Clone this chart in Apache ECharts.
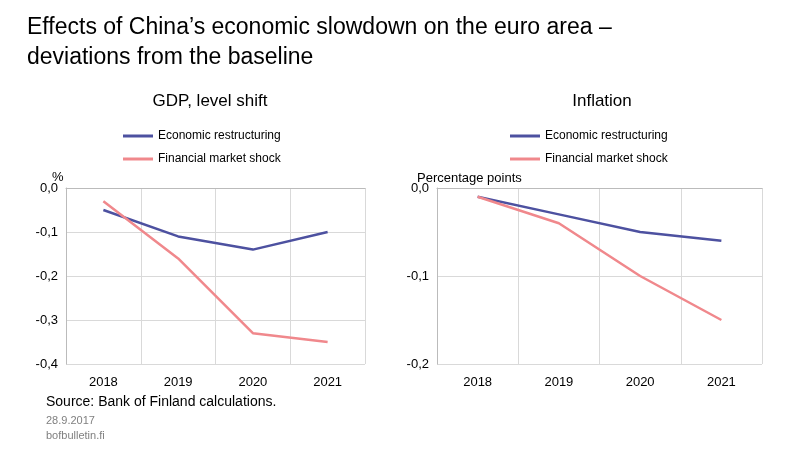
<!DOCTYPE html>
<html><head><meta charset="utf-8">
<script src="https://cdn.jsdelivr.net/npm/echarts@6/dist/echarts.min.js"></script>
<style>html,body{margin:0;padding:0;background:#fff}#c{width:800px;height:457px}</style>
</head><body><div id="c"></div>
<script>
const years = ['2018','2019','2020','2021'];
const gdpRestructuring = [-0.05,-0.11,-0.14,-0.10];
const gdpFinancial = [-0.03,-0.16,-0.33,-0.35];
const inflRestructuring = [-0.01,-0.03,-0.05,-0.06];
const inflFinancial = [-0.01,-0.04,-0.10,-0.15];
const C1 = '#4D51A0', C2 = '#F0888C';
const F = 'Liberation Sans, Arial, sans-serif';
const fmt = v => v === 0 ? '0,0' : String(v.toFixed(1)).replace('.', ',');
function xAx(i){return {type:'category',gridIndex:i,data:years,boundaryGap:true,
  axisLine:{lineStyle:{color:'#bbb'}},axisTick:{show:false},
  axisLabel:{color:'#000',fontFamily:F,fontSize:13,margin:12},
  splitLine:{show:true,interval:0,lineStyle:{color:'#d9d9d9'}}};}
function yAx(i,min){return {type:'value',gridIndex:i,min:min,max:0,interval:0.1,
  axisLine:{show:true,lineStyle:{color:'#bbb'}},axisTick:{show:false},
  axisLabel:{color:'#000',fontFamily:F,fontSize:13,formatter:fmt},
  splitLine:{lineStyle:{color:'#d9d9d9'}}};}
function leg(left,top,name,col){return {left:left,top:top,data:[name],itemWidth:30,itemHeight:3,
  icon:'rect',textStyle:{fontFamily:F,fontSize:12,color:'#000'},itemStyle:{color:col}};}
const s = (name,data,col,i)=>({name,type:'line',data,xAxisIndex:i,yAxisIndex:i,symbol:'none',
  lineStyle:{color:col,width:2.5},itemStyle:{color:col}});
const chart = echarts.init(document.getElementById('c'));
chart.setOption({
  animation:false,
  title:[
    {text:'Effects of China’s economic slowdown on the euro area –\ndeviations from the baseline',left:22,top:8,
     textStyle:{fontFamily:F,fontSize:23,fontWeight:'normal',color:'#000',lineHeight:30}},
    {text:'GDP, level shift',left:205,top:88,textAlign:'center',textStyle:{fontFamily:F,fontSize:17,fontWeight:'normal',color:'#000'}},
    {text:'Inflation',left:597,top:88,textAlign:'center',textStyle:{fontFamily:F,fontSize:17,fontWeight:'normal',color:'#000'}}
  ],
  legend:[
    leg(118,125,'Economic restructuring',C1), leg(118,148,'Financial market shock',C2),
    leg(505,125,'Economic restructuring ',C1), leg(505,148,'Financial market shock ',C2)
  ],
  grid:[{left:66,top:188,width:299,height:176},{left:437,top:188,width:325,height:176}],
  xAxis:[xAx(0),xAx(1)],
  yAxis:[yAx(0,-0.4),yAx(1,-0.2)],
  series:[
    s('Economic restructuring',gdpRestructuring,C1,0),
    s('Financial market shock',gdpFinancial,C2,0),
    s('Economic restructuring ',inflRestructuring,C1,1),
    s('Financial market shock ',inflFinancial,C2,1)
  ],
  graphic:[
    {type:'text',left:52,top:171,style:{text:'%',font:'13px '+F,fill:'#000'}},
    {type:'text',left:417,top:172,style:{text:'Percentage points',font:'13px '+F,fill:'#000'}},
    {type:'text',left:46,top:395,style:{text:'Source: Bank of Finland calculations.',font:'14px '+F,fill:'#000'}},
    {type:'text',left:46,top:415,style:{text:'28.9.2017',font:'11px '+F,fill:'#808080'}},
    {type:'text',left:46,top:430,style:{text:'bofbulletin.fi',font:'11px '+F,fill:'#808080'}}
  ]
});
</script></body></html>
